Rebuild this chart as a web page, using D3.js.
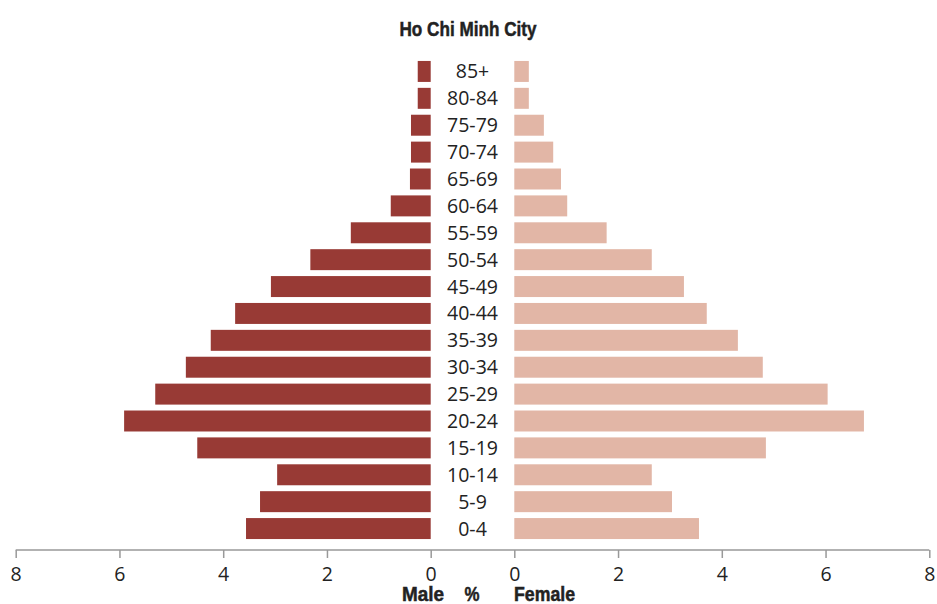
<!DOCTYPE html>
<html>
<head>
<meta charset="utf-8">
<script src="https://cdn.jsdelivr.net/npm/d3@7"></script>
<style>
  body { margin: 0; background: #fff; }
  .age, .tick text { font-family: "Open Sans", "Noto Sans", sans-serif; font-size: 19.5px; fill: #222; }
  .bold { font-family: "Liberation Sans", Arial, sans-serif; font-weight: bold; font-size: 20.5px; fill: #222; stroke: #222; stroke-width: 0.5px; }
</style>
</head>
<body>
<div id="chart"></div>
<script>
var svgWidth = 937;
var svgHeight = 604;

var ages = ["85+", "80-84", "75-79", "70-74", "65-69", "60-64", "55-59", "50-54", "45-49",
            "40-44", "35-39", "30-34", "25-29", "20-24", "15-19", "10-14", "5-9", "0-4"];
var male = [0.25, 0.25, 0.38, 0.38, 0.40, 0.77, 1.54, 2.32, 3.08,
            3.77, 4.24, 4.72, 5.31, 5.91, 4.50, 2.96, 3.29, 3.56];
var female = [0.28, 0.28, 0.57, 0.75, 0.90, 1.02, 1.78, 2.65, 3.27,
              3.71, 4.31, 4.79, 6.04, 6.74, 4.85, 2.65, 3.04, 3.56];
var tickValues = [0, 2, 4, 6, 8];

var svg = d3.select("#chart")
    .append("svg")
    .attr("width", svgWidth)
    .attr("height", svgHeight);

var xLeft = d3.scaleLinear().domain([0, 8]).range([430.7, 15.7]);
var xRight = d3.scaleLinear().domain([0, 8]).range([514.3, 929.3]);
var y = d3.scaleBand()
    .domain(ages)
    .range([58, 542])
    .paddingInner(0.22)
    .paddingOuter(0.11);

var axisY = 550;
var midX = 472.5;

// male bars
svg.append("g").selectAll("rect")
    .data(ages)
    .enter().append("rect")
    .attr("x", (d, i) => xLeft(male[i]))
    .attr("y", d => y(d))
    .attr("width", (d, i) => xLeft(0) - xLeft(male[i]))
    .attr("height", y.bandwidth())
    .attr("fill", "#983a35");

// female bars
svg.append("g").selectAll("rect")
    .data(ages)
    .enter().append("rect")
    .attr("x", xRight(0))
    .attr("y", d => y(d))
    .attr("width", (d, i) => xRight(female[i]) - xRight(0))
    .attr("height", y.bandwidth())
    .attr("fill", "#e2b6a6");

// age labels
svg.append("g").selectAll("text")
    .data(ages)
    .enter().append("text")
    .attr("class", "age")
    .attr("x", midX)
    .attr("y", d => y(d) + y.bandwidth() / 2)
    .attr("dy", "0.36em")
    .attr("text-anchor", "middle")
    .text(d => d);

// axes
svg.append("line")
    .attr("x1", xLeft(8)).attr("x2", xRight(8))
    .attr("y1", axisY).attr("y2", axisY)
    .attr("stroke", "#999")
    .attr("stroke-width", 1.5);

function styleAxis(g) {
    g.select(".domain").remove();
    g.selectAll(".tick line").attr("stroke", "#999").attr("stroke-width", 1.5);
    g.selectAll(".tick text").attr("dy", "0.95em").attr("fill", "#222");
}

svg.append("g")
    .attr("transform", `translate(0, ${axisY})`)
    .call(d3.axisBottom(xLeft).tickValues(tickValues).tickSize(8).tickPadding(4))
    .call(styleAxis);

svg.append("g")
    .attr("transform", `translate(0, ${axisY})`)
    .call(d3.axisBottom(xRight).tickValues(tickValues).tickSize(8).tickPadding(4))
    .call(styleAxis);

// title and axis labels (condensed bold, squeezed to the reference widths)
function boldText(x, yPos, anchor, txt, len) {
    svg.append("text")
        .attr("class", "bold")
        .attr("x", x)
        .attr("y", yPos)
        .attr("text-anchor", anchor)
        .attr("textLength", len)
        .attr("lengthAdjust", "spacingAndGlyphs")
        .text(txt);
}

boldText(468, 36, "middle", "Ho Chi Minh City", 137);
boldText(444, 601, "end", "Male", 42);
boldText(472, 601, "middle", "%", 15);
boldText(514, 601, "start", "Female", 61);
</script>
</body>
</html>
